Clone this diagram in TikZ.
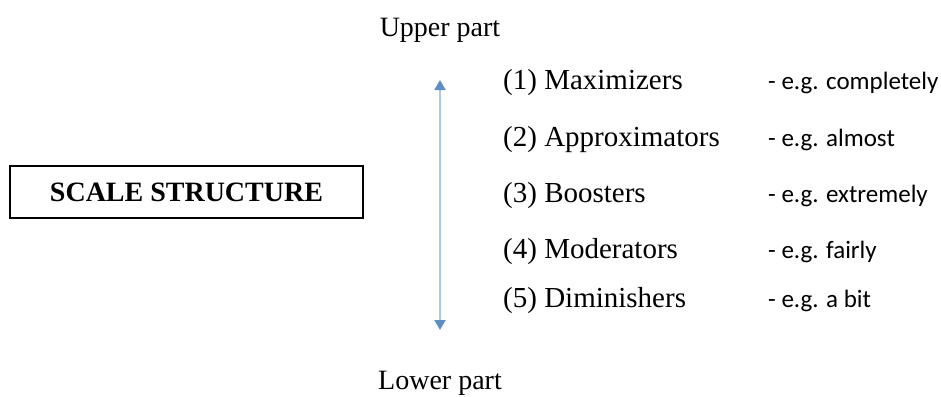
\documentclass[tikz,border=0pt]{standalone}
\usepackage{fontspec}
\setmainfont{Liberation Serif}
\newfontfamily\egfont{Carlito}
\usetikzlibrary{arrows.meta}
\definecolor{scaleline}{HTML}{A9C8E8}
\definecolor{scaletip}{HTML}{5F8FC0}
\tikzset{
  label/.style={font=\fontsize{29}{32}\selectfont, anchor=west, inner sep=0pt},
  example/.style={font=\egfont\fontsize{25}{28}\selectfont, anchor=west, inner sep=0pt},
}
\begin{document}
\begin{tikzpicture}[x=1pt, y=-1pt]
      \useasboundingbox (0,0) rectangle (941,396);
      \node[draw, line width=1.2pt, minimum width=353pt, minimum height=52pt,
        font=\bfseries\fontsize{28}{32}\selectfont] (scale) at (186.5,192) {SCALE STRUCTURE};
      \draw
        (440,30) node[font=\fontsize{28}{30}\selectfont] (upper){Upper part}
        (440,383) node[font=\fontsize{28}{30}\selectfont] (lower){Lower part};
      \coordinate (top) at (440,80);
      \coordinate (bot) at (440,330);
      \draw
        (503,83) node[label] (c1){(1) Maximizers}
        (503,140) node[label] (c2){(2) Approximators}
        (503,196) node[label] (c3){(3) Boosters}
        (503,252) node[label] (c4){(4) Moderators}
        (503,301) node[label] (c5){(5) Diminishers};
      \draw
        (768,83) node[example] (e1){- e.g. completely}
        (768,140) node[example] (e2){- e.g. almost}
        (768,196) node[example] (e3){- e.g. extremely}
        (768,252) node[example] (e4){- e.g. fairly}
        (768,301) node[example] (e5){- e.g. a bit};
      \begin{scope}[{Triangle[color=scaletip, length=10pt, width=11pt]}-{Triangle[color=scaletip, length=10pt, width=11pt]}]
        \draw[scaleline, line width=2pt] (top) to (bot);
      \end{scope}
    \end{tikzpicture}
\end{document}
